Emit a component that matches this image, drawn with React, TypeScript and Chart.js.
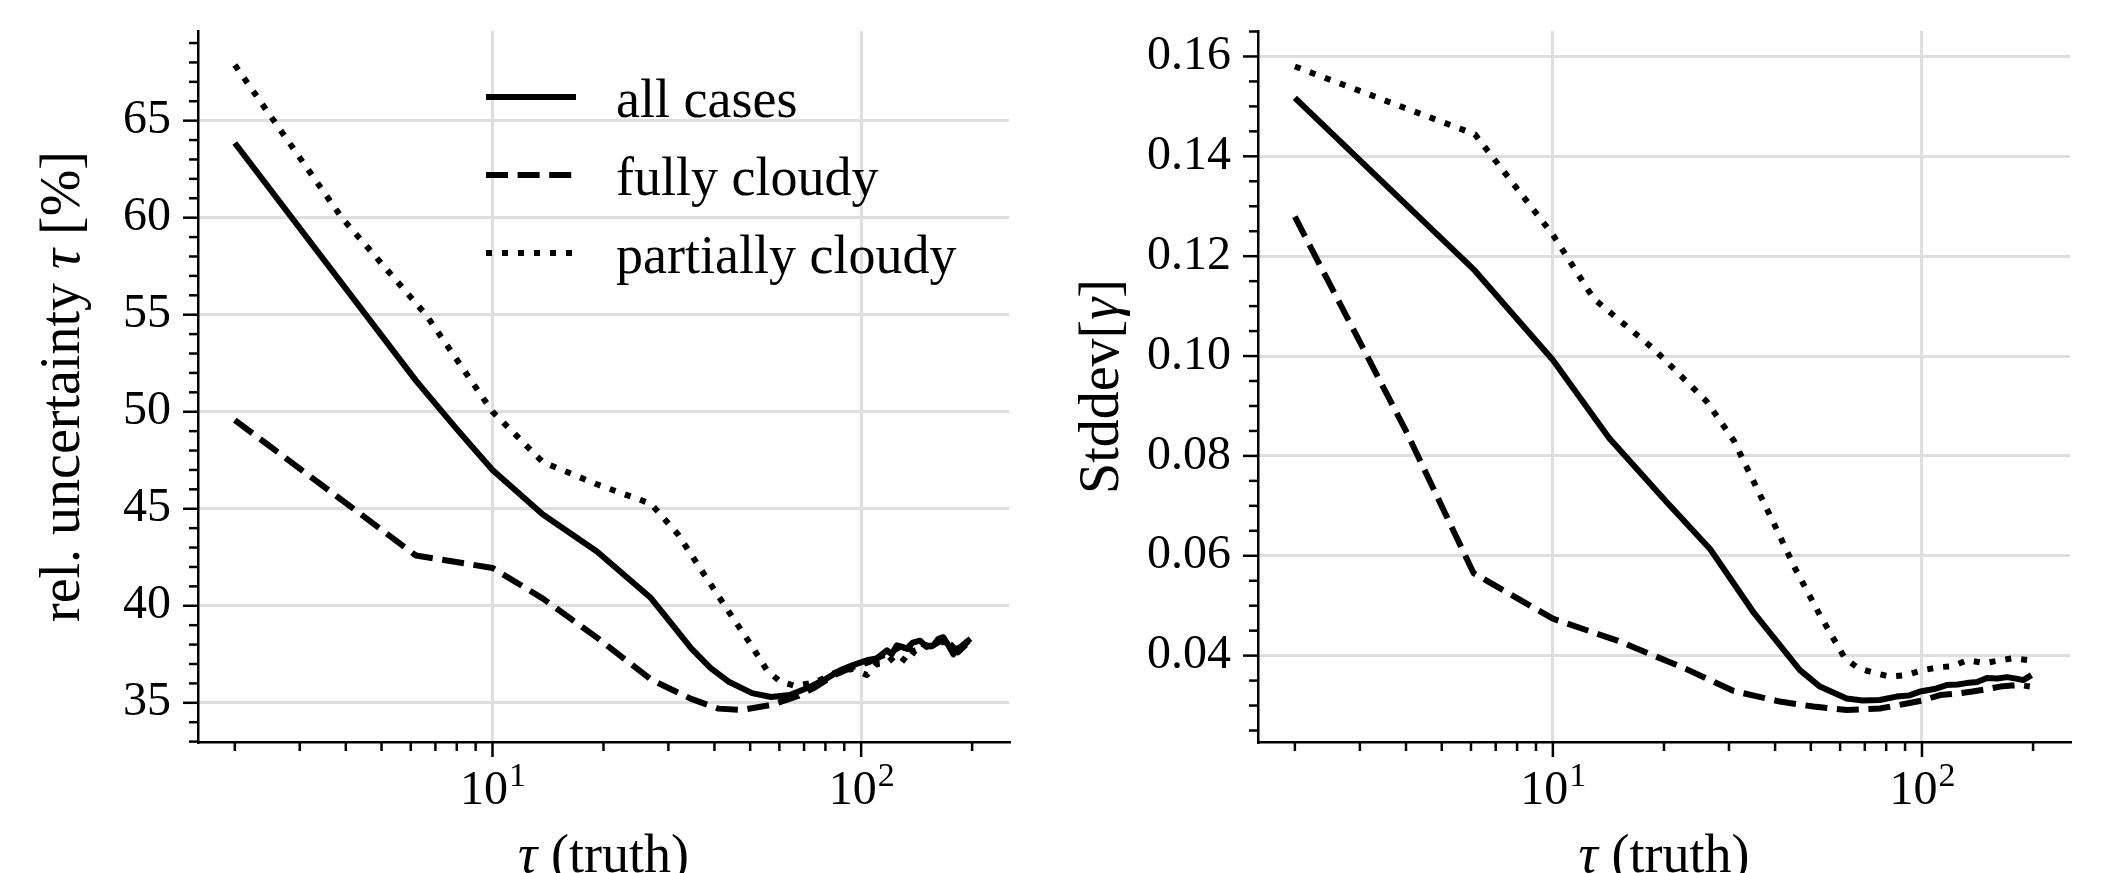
import React, { useEffect, useRef } from "react";
import { Chart, registerables } from "chart.js";

Chart.register(...registerables);

// ---------------- data ----------------
const seriesLabels = ["all cases", "fully cloudy", "partially cloudy"];

// left panel: rel. uncertainty tau [%]
const tauAllLeft = [2, 6.2, 8, 10, 13.7, 19.2, 26.9, 30.5, 34.6, 39, 43.6, 50.6, 57, 64, 72.8, 80.7, 87.7, 95, 103.6, 110, 117.5, 121, 125, 133, 138, 144.5, 150, 157, 162, 167, 172, 178, 182, 186, 192, 198];
const relAllLeft = [63.85, 51.6, 49.1, 47.0, 44.7, 42.8, 40.4, 39.1, 37.8, 36.8, 36.1, 35.5, 35.3, 35.4, 35.83, 36.26, 36.68, 36.94, 37.19, 37.28, 37.7, 37.5, 37.96, 37.79, 38.1, 38.2, 37.9, 37.96, 38.3, 38.38, 38.0, 37.5, 37.8, 37.87, 38.1, 38.3];

const tauFullLeft = [2, 6.2, 10, 13.7, 19.2, 26.9, 34.6, 41, 47.5, 57.3, 67.5, 75, 85, 95, 105, 112, 120, 128, 136, 145, 155, 165, 175, 183, 190, 198];
const relFullLeft = [49.57, 42.59, 41.95, 40.37, 38.36, 36.2, 35.2, 34.7, 34.63, 34.9, 35.35, 35.8, 36.45, 36.85, 37.1, 37.35, 37.6, 37.9, 37.75, 38.05, 37.9, 38.2, 38.0, 37.6, 37.9, 38.2];

const tauPartLeft = [2, 3.9, 6.6, 10, 13.7, 19.2, 26.9, 31.8, 41, 50.6, 55.5, 60.3, 66.2, 75, 85, 95, 103.6, 110, 117.5, 125, 133, 140, 148, 158, 168, 176, 184, 191, 198];
const relPartLeft = [67.87, 60.0, 55.0, 50.0, 47.4, 46.26, 45.26, 43.7, 40.5, 37.9, 36.68, 36.09, 35.87, 36.05, 36.55, 36.75, 36.43, 37.0, 37.05, 37.5, 37.1, 37.7, 37.85, 38.0, 38.15, 37.9, 37.55, 38.0, 38.3];

// right panel: Stddev[gamma]
const tauAllRight = [2, 6.15, 10, 14.2, 20.3, 26.7, 35.1, 41.2, 46.7, 52.9, 62.5, 69, 76.9, 85.3, 92, 98.8, 108, 116.6, 125, 132, 141, 150, 160, 170, 180, 188, 198];
const stdAllRight = [0.1517, 0.1171, 0.0992, 0.0836, 0.0708, 0.0613, 0.0485, 0.0421, 0.0371, 0.0338, 0.0314, 0.031, 0.0311, 0.0318, 0.032, 0.0328, 0.0333, 0.0341, 0.0342, 0.0345, 0.0347, 0.0355, 0.0354, 0.0357, 0.0354, 0.0351, 0.0361];

const tauFullRight = [2, 4, 6.1, 10, 15.1, 23, 30.9, 41.2, 50.8, 62.5, 76.9, 91, 100, 112, 124, 137, 150, 163, 175, 185, 196];
const stdFullRight = [0.1279, 0.085, 0.0565, 0.0474, 0.0429, 0.0373, 0.0329, 0.0308, 0.0298, 0.0291, 0.0294, 0.0304, 0.031, 0.0321, 0.0324, 0.0328, 0.0333, 0.0338, 0.034, 0.0341, 0.0338];

const tauPartRight = [2, 6.15, 10, 12.9, 18.7, 26.1, 30.9, 39.8, 45.3, 52.9, 61.8, 67.1, 74.7, 81.9, 90.5, 100.6, 112, 121, 133, 148, 161, 177, 194];
const stdPartRight = [0.158, 0.1444, 0.1243, 0.1115, 0.1015, 0.0909, 0.0831, 0.0663, 0.0575, 0.0481, 0.0395, 0.0375, 0.0365, 0.0358, 0.0361, 0.0371, 0.0377, 0.0379, 0.0391, 0.0385, 0.039, 0.0395, 0.0391];

// ticks
const xTickValues = [2, 3, 4, 5, 6, 7, 8, 9, 10, 20, 30, 40, 50, 60, 70, 80, 90, 100, 200];
const xMajorTicks = [10, 100];
const xTickBase = "10";
const xTickExp: Record<number, string> = { 10: "1", 100: "2" };

const leftYMajor = [35, 40, 45, 50, 55, 60, 65];
const rightYMajor = [0.04, 0.06, 0.08, 0.1, 0.12, 0.14, 0.16];

// ---------------- style ----------------
const H = 873;
const FONT = "'Liberation Serif', 'Times New Roman', serif";
const TICK_FONT = 48;
const SUP_FONT = 34;
const TITLE_FONT = 54;
const LINE_W = 6;
const SPINE_W = 2.5;
const GRID = "#dedede";
const GRID_W = 3;
const MAJOR_LEN = 15;
const MINOR_LEN = 9;
const dashes: number[][] = [[], [22, 9.6], [6, 10]];

type Part = { t: string; it?: boolean };

function drawRich(ctx: CanvasRenderingContext2D, parts: Part[], size: number, x: number, y: number, rot: number) {
  ctx.save();
  ctx.translate(x, y);
  ctx.rotate(rot);
  const fonts = parts.map((p) => `${p.it ? "italic " : ""}${size}px ${FONT}`);
  let total = 0;
  const widths = parts.map((p, i) => {
    ctx.font = fonts[i];
    const w = ctx.measureText(p.t).width;
    total += w;
    return w;
  });
  let cx = -total / 2;
  ctx.textBaseline = "alphabetic";
  ctx.textAlign = "left";
  ctx.fillStyle = "#000";
  parts.forEach((p, i) => {
    ctx.font = fonts[i];
    ctx.fillText(p.t, cx, 0);
    cx += widths[i];
  });
  ctx.restore();
}

type Panel = {
  canvasLeft: number;
  canvasWidth: number;
  area: { left: number; right: number; top: number; bottom: number };
  xMin: number;
  xMax: number;
  yMin: number;
  yMax: number;
  yTicks: number[];
  yMajor: number[];
  yFmt: (v: number) => string;
  series: { x: number[]; y: number[] }[];
  yTitle: Part[];
  yTitleSize: number;
  yTitleX: number;
  legend: boolean;
};

function makeTicks(from: number, to: number, step: number) {
  const out: number[] = [];
  for (let v = from; v <= to + step / 2; v += step) out.push(Math.round(v * 10000) / 10000);
  return out;
}

const panels: Panel[] = [
  {
    canvasLeft: 0,
    canvasWidth: 1057,
    area: { left: 198, right: 1009, top: 31, bottom: 742 },
    xMin: 1.589,
    xMax: 251.8,
    yMin: 32.98,
    yMax: 69.62,
    yTicks: makeTicks(33, 69, 1),
    yMajor: leftYMajor,
    yFmt: (v) => String(v),
    series: [
      { x: tauAllLeft, y: relAllLeft },
      { x: tauFullLeft, y: relFullLeft },
      { x: tauPartLeft, y: relPartLeft },
    ],
    yTitle: [{ t: "rel. uncertainty " }, { t: "\u03C4", it: true }, { t: " [%]" }],
    yTitleSize: 56,
    yTitleX: 79,
    legend: true,
  },
  {
    canvasLeft: 1057,
    canvasWidth: 1058,
    area: { left: 201, right: 1013, top: 31, bottom: 742 },
    xMin: 1.589,
    xMax: 251.8,
    yMin: 0.0227,
    yMax: 0.1651,
    yTicks: makeTicks(0.025, 0.165, 0.005),
    yMajor: rightYMajor,
    yFmt: (v) => v.toFixed(2),
    series: [
      { x: tauAllRight, y: stdAllRight },
      { x: tauFullRight, y: stdFullRight },
      { x: tauPartRight, y: stdPartRight },
    ],
    yTitle: [{ t: "Stddev[" }, { t: "\u03B3", it: true }, { t: "]" }],
    yTitleSize: 56,
    yTitleX: 61,
    legend: false,
  },
];

const isIn = (list: number[], v: number | undefined) =>
  v !== undefined && list.some((m) => Math.abs(m - v) < 1e-9);

function buildConfig(p: Panel): any {
  const decor = {
    id: "panelDecor",
    afterDraw(chart: any) {
      const ctx: CanvasRenderingContext2D = chart.ctx;
      const xs = chart.scales.x;
      const ys = chart.scales.y;
      ctx.save();
      ctx.strokeStyle = "#000";
      ctx.lineWidth = SPINE_W;
      ctx.lineCap = "butt";
      for (const v of xTickValues) {
        const px = xs.getPixelForValue(v);
        const len = isIn(xMajorTicks, v) ? MAJOR_LEN : MINOR_LEN;
        ctx.beginPath();
        ctx.moveTo(px, xs.top);
        ctx.lineTo(px, xs.top + len);
        ctx.stroke();
      }
      for (const v of p.yTicks) {
        const py = ys.getPixelForValue(v);
        const len = isIn(p.yMajor, v) ? MAJOR_LEN : MINOR_LEN;
        ctx.beginPath();
        ctx.moveTo(ys.right - len, py);
        ctx.lineTo(ys.right, py);
        ctx.stroke();
      }
      // x tick labels: 10 with superscript exponent
      ctx.fillStyle = "#000";
      ctx.textBaseline = "alphabetic";
      ctx.textAlign = "left";
      for (const v of xMajorTicks) {
        const px = xs.getPixelForValue(v);
        ctx.font = `${TICK_FONT}px ${FONT}`;
        const wb = ctx.measureText(xTickBase).width;
        ctx.font = `${SUP_FONT}px ${FONT}`;
        const we = ctx.measureText(xTickExp[v]).width;
        const x0 = px - (wb + we) / 2;
        const base = xs.top + 62;
        ctx.font = `${TICK_FONT}px ${FONT}`;
        ctx.fillText(xTickBase, x0, base);
        ctx.font = `${SUP_FONT}px ${FONT}`;
        ctx.fillText(xTickExp[v], x0 + wb + 1, base - 18);
      }
      ctx.restore();

      // axis titles
      const midY = (chart.chartArea.top + chart.chartArea.bottom) / 2;
      const midX = (chart.chartArea.left + chart.chartArea.right) / 2;
      drawRich(ctx, p.yTitle, p.yTitleSize, p.yTitleX, midY, -Math.PI / 2);
      drawRich(ctx, [{ t: "\u03C4", it: true }, { t: " (truth)" }], TITLE_FONT, midX, 872, 0);

      if (p.legend) {
        const rowGap = 78;
        seriesLabels.forEach((label, i) => {
          const ly = 97 + rowGap * i;
          ctx.save();
          ctx.strokeStyle = "#000";
          ctx.lineWidth = LINE_W;
          ctx.lineCap = "butt";
          ctx.setLineDash(dashes[i]);
          ctx.beginPath();
          ctx.moveTo(486, ly);
          ctx.lineTo(576, ly);
          ctx.stroke();
          ctx.setLineDash([]);
          ctx.font = `${TITLE_FONT}px ${FONT}`;
          ctx.fillStyle = "#000";
          ctx.textAlign = "left";
          ctx.textBaseline = "alphabetic";
          ctx.fillText(label, 616, 117 + rowGap * i);
          ctx.restore();
        });
      }
    },
  };

  return {
    type: "line",
    data: {
      datasets: p.series.map((s, i) => ({
        label: seriesLabels[i],
        data: s.x.map((x, j) => ({ x, y: s.y[j] })),
        borderColor: "#000",
        backgroundColor: "#000",
        borderWidth: LINE_W,
        borderDash: dashes[i],
        borderCapStyle: "butt",
        borderJoinStyle: "round",
        pointRadius: 0,
        pointHoverRadius: 0,
        tension: 0,
        fill: false,
      })),
    },
    options: {
      responsive: false,
      animation: false,
      events: [],
      layout: {
        padding: { left: 0, top: p.area.top, right: p.canvasWidth - p.area.right, bottom: 0 },
      },
      plugins: {
        legend: { display: false },
        tooltip: { enabled: false },
        title: { display: false },
      },
      scales: {
        x: {
          type: "logarithmic",
          position: "bottom",
          min: p.xMin,
          max: p.xMax,
          bounds: "data",
          afterBuildTicks: (s: any) => {
            s.ticks = xTickValues.map((v) => ({ value: v }));
          },
          afterFit: (s: any) => {
            s.height = H - p.area.bottom;
            s.paddingLeft = 0;
            s.paddingRight = 0;
            s.paddingTop = 0;
            s.paddingBottom = 0;
          },
          grid: {
            color: (c: any) => (isIn(xMajorTicks, c.tick?.value) ? GRID : "rgba(0,0,0,0)"),
            lineWidth: GRID_W,
            drawTicks: false,
            tickLength: 0,
          },
          border: { display: true, color: "#000", width: SPINE_W },
          ticks: {
            autoSkip: false,
            maxRotation: 0,
            minRotation: 0,
            padding: 22,
            color: "#000",
            font: { family: FONT, size: TICK_FONT },
            callback: () => "",
          },
        },
        y: {
          type: "linear",
          position: "left",
          min: p.yMin,
          max: p.yMax,
          afterBuildTicks: (s: any) => {
            s.ticks = p.yTicks.map((v) => ({ value: v }));
          },
          afterFit: (s: any) => {
            s.width = p.area.left;
            s.paddingTop = 0;
            s.paddingBottom = 0;
            s.paddingLeft = 0;
            s.paddingRight = 0;
          },
          grid: {
            color: (c: any) => (isIn(p.yMajor, c.tick?.value) ? GRID : "rgba(0,0,0,0)"),
            lineWidth: GRID_W,
            drawTicks: false,
            tickLength: 0,
          },
          border: { display: true, color: "#000", width: SPINE_W },
          ticks: {
            autoSkip: false,
            padding: 27,
            color: "#000",
            font: { family: FONT, size: TICK_FONT },
            callback: (v: number) => (isIn(p.yMajor, v) ? p.yFmt(v) : ""),
          },
        },
      },
    },
    plugins: [decor],
  };
}

function PanelCanvas({ panel }: { panel: Panel }) {
  const ref = useRef<HTMLCanvasElement | null>(null);
  useEffect(() => {
    if (!ref.current) return;
    const chart = new Chart(ref.current, buildConfig(panel));
    return () => chart.destroy();
  }, [panel]);
  return (
    <canvas
      ref={ref}
      width={panel.canvasWidth}
      height={H}
      style={{
        position: "absolute",
        left: panel.canvasLeft,
        top: 0,
        width: panel.canvasWidth,
        height: H,
      }}
    />
  );
}

export default function App() {
  return (
    <div
      style={{
        position: "absolute",
        left: 0,
        top: 0,
        width: 2115,
        height: H,
        background: "#fff",
        overflow: "hidden",
      }}
    >
      {panels.map((p, i) => (
        <PanelCanvas key={i} panel={p} />
      ))}
    </div>
  );
}
